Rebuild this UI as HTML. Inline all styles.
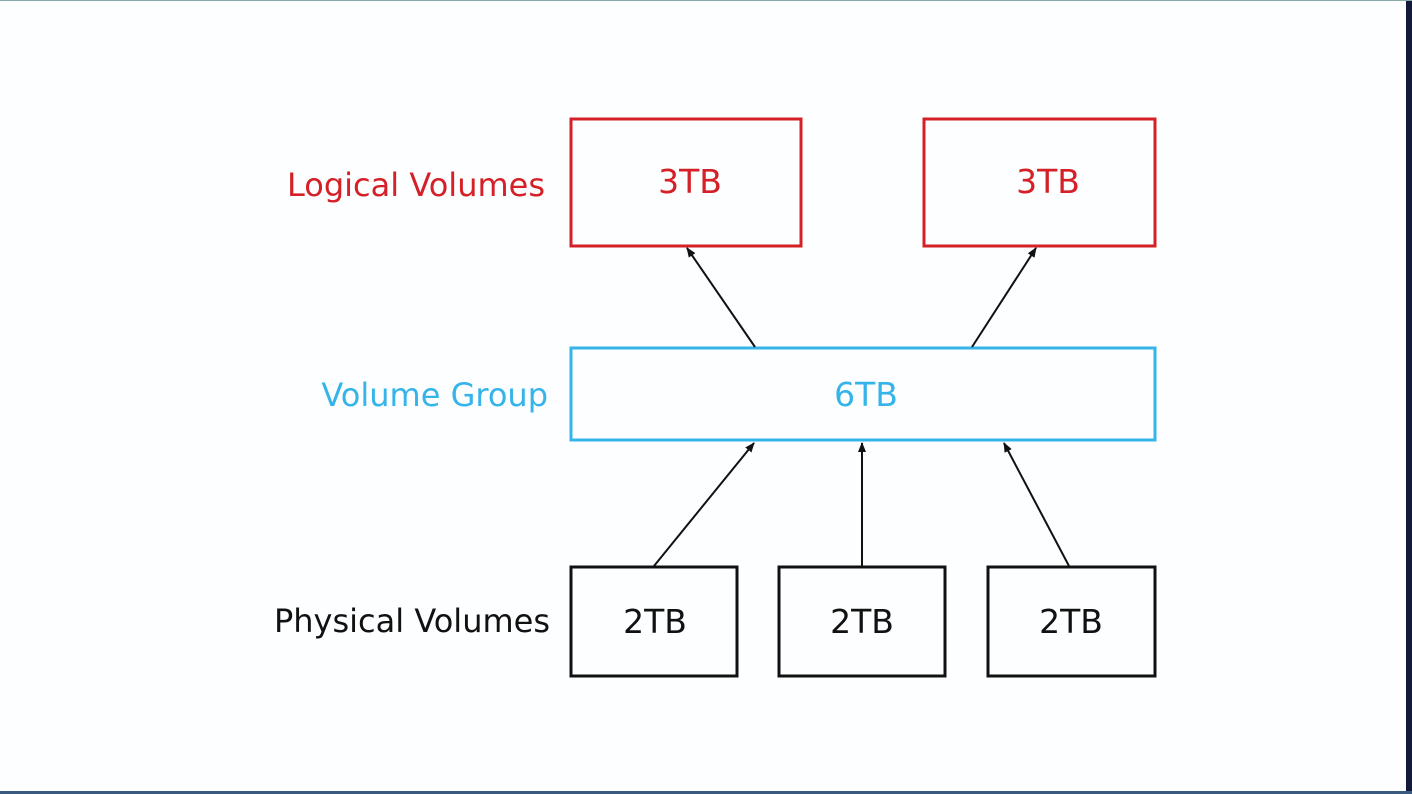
<!DOCTYPE html>
<html><head><meta charset="utf-8"><style>
html,body{margin:0;padding:0;background:#fff;}
body{width:1412px;height:794px;overflow:hidden;position:relative;}
svg{position:absolute;left:0;top:0;}
text{font-family:"DejaVu Sans","Liberation Sans",sans-serif;}
</style></head><body>
<svg width="1412" height="794" viewBox="0 0 1412 794">
<defs><marker id="a" markerWidth="10" markerHeight="10" refX="9" refY="5" orient="auto" markerUnits="userSpaceOnUse"><path d="M0,1 L10,5 L0,9 Z" fill="#111"/></marker></defs>
<rect x="0" y="0" width="1412" height="794" fill="#fdfeff"/>
<rect x="1406" y="0" width="6" height="794" fill="#141a3a"/>
<rect x="0" y="791" width="1412" height="3" fill="#3a5a80"/>
<rect x="0" y="0" width="1412" height="1" fill="#8aa"/>
<g fill="none" stroke-width="3">
<rect x="571" y="119" width="230" height="127" stroke="#d42026"/>
<rect x="924" y="119" width="231" height="127" stroke="#d42026"/>
<rect x="571" y="348" width="584" height="92" stroke="#35b4ea"/>
<rect x="571" y="567" width="166" height="109" stroke="#111"/>
<rect x="779" y="567" width="166" height="109" stroke="#111"/>
<rect x="988" y="567" width="167" height="109" stroke="#111"/>
</g>
<g stroke="#111" stroke-width="2" marker-end="url(#a)">
<line x1="755" y1="347" x2="687" y2="248"/>
<line x1="972" y1="347" x2="1036" y2="248"/>
<line x1="654" y1="566" x2="754" y2="443"/>
<line x1="862" y1="566" x2="862" y2="443"/>
<line x1="1069" y1="566" x2="1004" y2="443"/>
</g>
<g font-size="33" text-anchor="middle">
<text x="690" y="193" fill="#d42026">3TB</text>
<text x="1048" y="193" fill="#d42026">3TB</text>
<text x="866" y="406" fill="#35b4ea">6TB</text>
<text x="655" y="633" fill="#111">2TB</text>
<text x="862" y="633" fill="#111">2TB</text>
<text x="1071" y="633" fill="#111">2TB</text>
</g>
<g font-size="32" text-anchor="end">
<text x="545" y="196" fill="#d42026">Logical Volumes</text>
<text x="548" y="406" fill="#35b4ea">Volume Group</text>
<text x="550" y="632" fill="#111">Physical Volumes</text>
</g>
</svg>
</body></html>
